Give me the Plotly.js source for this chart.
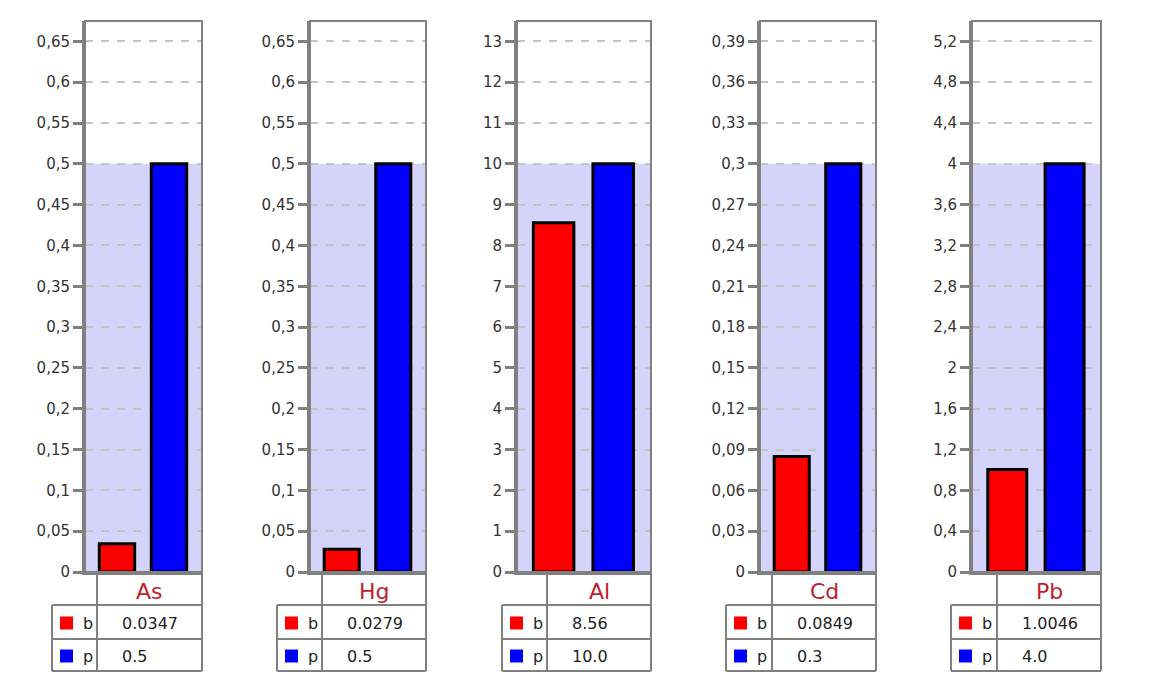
<!DOCTYPE html>
<html>
<head>
<meta charset="utf-8">
<script src="https://cdn.plot.ly/plotly-3.0.1.min.js"></script>
<style>html,body{margin:0;padding:0;background:#fff;}#chart{width:1175px;height:695px;}</style>
</head>
<body>
<div id="chart"></div>
<script>
// ---- data ----
const elements = ['As', 'Hg', 'Al', 'Cd', 'Pb'];
const seriesNames = ['b', 'p'];
const bValues = [0.0347, 0.0279, 8.56, 0.0849, 1.0046];
const pValues = [0.5, 0.5, 10.0, 0.3, 4.0];

// ---- layout geometry (pixels) ----
const W = 1175, H = 695;
const X = px => px / W;
const Y = py => 1 - py / H;
const TOP = 21, BOT = 572;
const plotLeft  = [85, 310, 517, 760, 972];
const plotRight = [202, 426, 651, 876, 1101];
const tableLeft = [52, 277, 502, 726, 951];
const divider   = [97, 322, 547, 772, 997];
const rowLines = [605, 639, 671];
const rowMid = [623, 656];
const colors = ['#ff0000', '#0000ff'];
const grey = '#808080';

function fmtP(v) { return Number.isInteger(v) ? v.toFixed(1) : String(v); }

const traces = [];
const shapes = [];
const annotations = [];
const layout = {
  width: W, height: H,
  margin: {l: 0, r: 0, t: 0, b: 0},
  paper_bgcolor: '#ffffff',
  plot_bgcolor: 'rgba(0,0,0,0)',
  separators: ', ',
  showlegend: false,
  bargap: 0.32,
  font: {family: 'DejaVu Sans', color: '#333'}
};

elements.forEach((el, i) => {
  const n = i === 0 ? '' : String(i + 1);
  const xa = 'x' + n, ya = 'y' + n;
  const p = pValues[i];
  traces.push({
    type: 'bar', x: seriesNames, y: [bValues[i], pValues[i]],
    xaxis: xa, yaxis: ya,
    marker: {color: colors, line: {color: '#000', width: 3}},
    hoverinfo: 'none'
  });
  layout['xaxis' + n] = {
    domain: [X(plotLeft[i]), X(plotRight[i])], anchor: ya,
    type: 'category', range: [-0.615, 1.635],
    showticklabels: false, ticks: '', showgrid: false, zeroline: false,
    showline: true, linecolor: grey, linewidth: 3, fixedrange: true
  };
  layout['yaxis' + n] = {
    domain: [Y(BOT), Y(TOP)], anchor: xa,
    range: [0, p * 1.35], tick0: 0, dtick: p / 10,
    ticks: 'outside', ticklen: 9, tickwidth: 3, tickcolor: grey,
    showline: true, linecolor: grey, linewidth: 3,
    showgrid: true, gridcolor: '#c4c4c4', gridwidth: 2, griddash: '8px,8px',
    zeroline: false, fixedrange: true,
    tickfont: {family: 'DejaVu Sans', size: 15, color: '#333'}
  };
  // shaded limit region
  shapes.push({type: 'rect', xref: xa + ' domain', yref: ya, x0: 0, x1: 1, y0: 0, y1: p,
    fillcolor: '#d4d4fa', line: {width: 0}, layer: 'below'});
  // plot border
  shapes.push({type: 'rect', xref: xa + ' domain', yref: ya + ' domain', x0: 0, x1: 1, y0: 0, y1: 1,
    line: {color: grey, width: 2}, layer: 'above'});
  // table lines
  const tl = tableLeft[i], dv = divider[i], rr = plotRight[i];
  const line = (x0, y0, x1, y1) => shapes.push({type: 'line', xref: 'paper', yref: 'paper',
    x0: X(x0), y0: Y(y0), x1: X(x1), y1: Y(y1), line: {color: grey, width: 2}});
  line(dv, BOT, dv, rowLines[2]);
  line(rr, BOT, rr, rowLines[2]);
  line(tl, rowLines[0], tl, rowLines[2]);
  rowLines.forEach(yy => line(tl, yy, rr, yy));
  // legend keys, labels and values
  const vals = [String(bValues[i]), fmtP(pValues[i])];
  seriesNames.forEach((s, k) => {
    const cy = rowMid[k];
    shapes.push({type: 'rect', xref: 'paper', yref: 'paper',
      x0: X(tl + 8), x1: X(tl + 21), y0: Y(cy - 6.5), y1: Y(cy + 6.5),
      fillcolor: colors[k], line: {width: 0}});
    annotations.push({xref: 'paper', yref: 'paper', x: X(tl + 29), y: Y(cy),
      text: s, showarrow: false, xanchor: 'left', yanchor: 'middle',
      font: {family: 'DejaVu Sans', size: 16, color: '#222'}});
    annotations.push({xref: 'paper', yref: 'paper', x: X(dv + 23), y: Y(cy),
      text: vals[k], showarrow: false, xanchor: 'left', yanchor: 'middle',
      font: {family: 'DejaVu Sans', size: 16, color: '#222'}});
  });
  // element title
  annotations.push({xref: 'paper', yref: 'paper', x: X((dv + rr) / 2), y: Y(591),
    text: el, showarrow: false, xanchor: 'center', yanchor: 'middle',
    font: {family: 'DejaVu Sans', size: 22, color: '#c0202c'}});
});

layout.shapes = shapes;
layout.annotations = annotations;
Plotly.newPlot('chart', traces, layout, {staticPlot: true, displayModeBar: false});
</script>
</body>
</html>
